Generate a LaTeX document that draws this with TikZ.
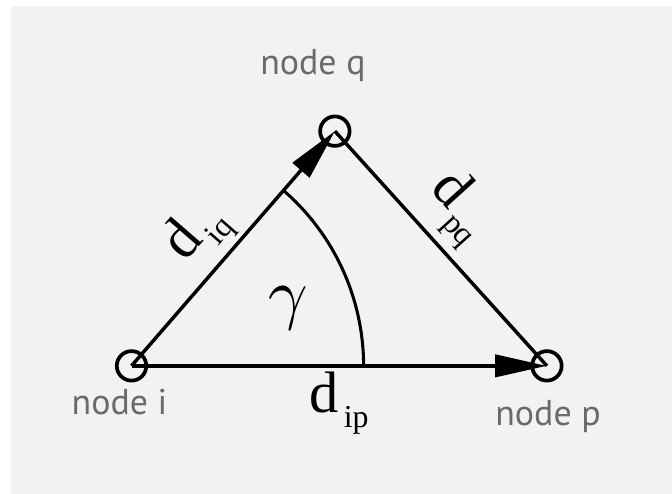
\documentclass[tikz,border=0pt]{standalone}
\usepackage{fontspec}
\usepackage{tikz}
\usepackage{xcolor}
\usetikzlibrary{arrows.meta,positioning}
\setmainfont{Liberation Serif}
\newfontfamily\nodefont{PT Sans}
\definecolor{panelgray}{HTML}{F2F2F2}
\definecolor{labelgray}{HTML}{6A6A6A}
\newcommand{\dlab}[1]{{\fontsize{44}{48}\selectfont d}\kern3.5pt\raisebox{-11pt}{\fontsize{24}{26}\selectfont #1}}

\begin{document}
\begin{tikzpicture}[
    vertex/.style={circle, draw=black, line width=2.8pt, minimum size=0.78cm,
                   inner sep=0pt},
    nlabel/.style={anchor=base, inner sep=0pt, text=labelgray,
                   font=\nodefont\fontsize{27}{30}\selectfont},
    edge/.style={line width=2.6pt, draw=black},
    tip/.style={-{Triangle[length=39pt, width=16.5pt]}},
    dlabel/.style={inner sep=3pt},
    anglearc/.style={line width=2.3pt, draw=black}
]
  \useasboundingbox (0,0) rectangle (17.78,13.07);
  \fill[panelgray] (0.29,0) rectangle (17.78,12.91);
  % vertices
  \node[vertex] (i) at (3.48,3.39) {};
  \node[vertex] (p) at (14.47,3.39) {};
  \node[vertex] (q) at (8.86,9.60) {};
  \node[nlabel] (li) at (3.16,2.09) {node i};
  \node[nlabel] (lp) at (14.50,1.80) {node p};
  \node[nlabel] (lq) at (8.28,11.09) {node q};
  % edges
  \draw[edge, tip, line width=3.3pt] (i.center) --
    node[dlabel, below] (dip) {\dlab{ip}} (p.center);
  \draw[edge, tip] (i.center) --
    node[dlabel, sloped, above, pos=0.46] (diq) {\dlab{iq}} (q.center);
  \draw[edge] (q.center) --
    node[dlabel, sloped, above, pos=0.44, inner sep=6pt] (dpq) {\dlab{pq}} (p.center);
  % angle
  \draw[anglearc] ([shift={(0:6.14)}]i.center) arc[start angle=0, end angle=49.1, radius=6.14];
  \node[scale=5.2] (gamma) at (7.62,4.90) {$\gamma$};
\end{tikzpicture}
\end{document}
